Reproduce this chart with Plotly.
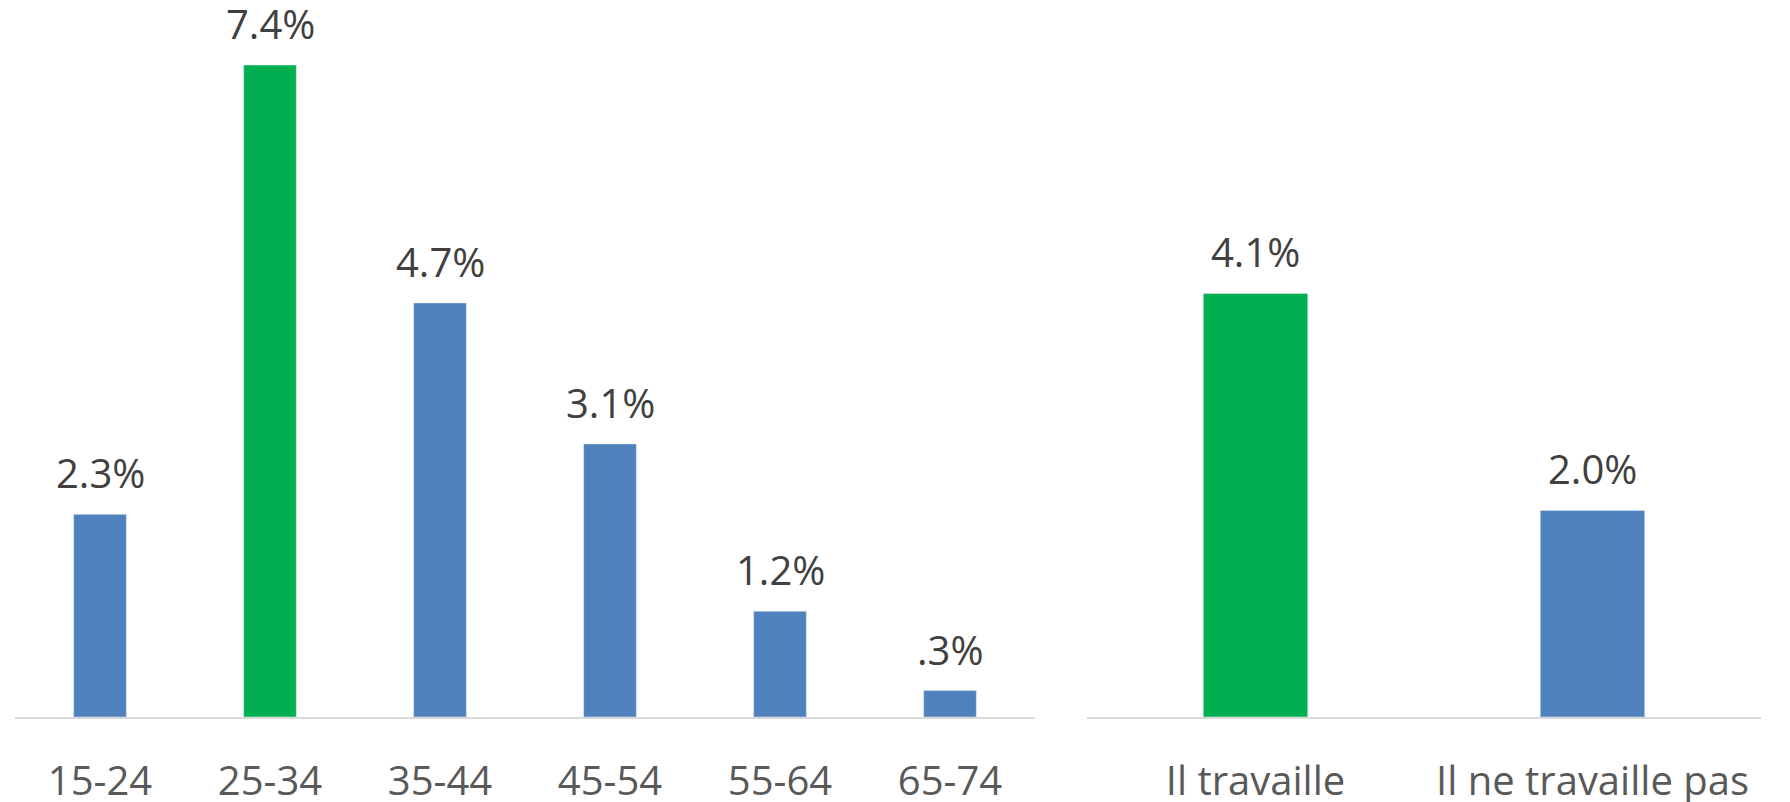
import plotly.graph_objects as go

# ===== data =====
age_groups = ["15-24", "25-34", "35-44", "45-54", "55-64", "65-74"]
age_values = [2.3, 7.4, 4.7, 3.1, 1.2, 0.3]
age_colors = ["#4F81BD", "#00B050", "#4F81BD", "#4F81BD", "#4F81BD", "#4F81BD"]

work_groups = ["Il travaille", "Il ne travaille pas"]
work_values = [4.1, 2.0]
work_colors = ["#00B050", "#4F81BD"]

FONT = "Open Sans"
W, H = 1790, 802


def pct(v):
    # Excel style label: 0.3 -> ".3%"
    return f"{v:.1f}%".lstrip("0")


fig = go.Figure()

fig.add_trace(go.Bar(
    x=age_groups, y=age_values,
    marker_color=age_colors,
    width=0.31,
    xaxis="x", yaxis="y",
    showlegend=False
))
fig.add_trace(go.Bar(
    x=work_groups, y=work_values,
    marker_color=work_colors,
    width=0.31,
    xaxis="x2", yaxis="y2",
    showlegend=False
))

# data labels above bars
annotations = []
for cat, v in zip(age_groups, age_values):
    annotations.append(dict(
        x=cat, y=v, xref="x", yref="y", text=pct(v),
        showarrow=False, yanchor="bottom", yshift=12,
        font=dict(family=FONT, size=40, color="#404040")
    ))
for cat, v in zip(work_groups, work_values):
    annotations.append(dict(
        x=cat, y=v, xref="x2", yref="y2", text=pct(v),
        showarrow=False, yanchor="bottom", yshift=12,
        font=dict(family=FONT, size=40, color="#404040")
    ))

axis_common = dict(
    showline=True,
    linecolor="#D9D9D9",
    linewidth=2,
    showgrid=False,
    zeroline=False,
    automargin=False,
    ticks="",
    ticklabelstandoff=28,
    tickfont=dict(family=FONT, size=40, color="#595959")
)

fig.update_layout(
    width=W, height=H,
    margin=dict(l=0, r=0, t=0, b=85),
    plot_bgcolor="white",
    paper_bgcolor="white",
    annotations=annotations,
    xaxis=dict(domain=[15 / W, 1035 / W], anchor="y", **axis_common),
    xaxis2=dict(domain=[1087 / W, 1761 / W], anchor="y2", **axis_common),
    yaxis=dict(range=[0, 717 / 88.1], visible=False, anchor="x", automargin=False),
    yaxis2=dict(range=[0, 717 / 103.3], visible=False, anchor="x2", automargin=False),
)

# drop the default page margin so the figure fills the window
fig.write_html(
    "out.html",
    config={"displayModeBar": False},
    post_script="document.body.style.margin='0';"
)
